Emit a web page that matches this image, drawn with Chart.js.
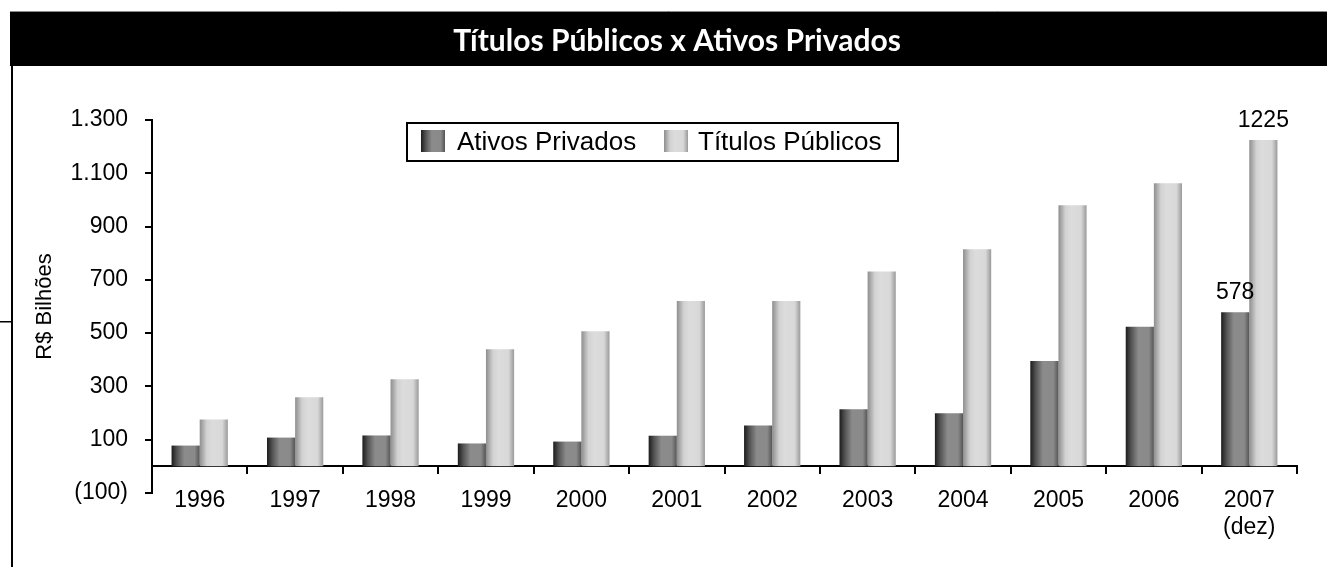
<!DOCTYPE html>
<html>
<head>
<meta charset="utf-8">
<script src="https://cdn.jsdelivr.net/npm/chart.js@4.4.1/dist/chart.umd.min.js"></script>
<style>
  html, body { margin: 0; padding: 0; background: #ffffff; }
  #chart-box { width: 1327px; height: 567px; }
</style>
</head>
<body>
<div id="chart-box"><canvas id="chart" width="1327" height="567"></canvas></div>
<script>
const years = ['1996', '1997', '1998', '1999', '2000', '2001', '2002', '2003', '2004', '2005', '2006', ['2007', '(dez)']];
const ativosPrivados  = [78, 108, 116, 86, 93, 115, 153, 214, 199, 395, 524, 578];
const titulosPublicos = [176, 259, 327, 440, 507, 621, 621, 731, 815, 980, 1063, 1225];
const seriesNames = ['Ativos Privados', 'Títulos Públicos'];
const chartTitle = 'Títulos Públicos x Ativos Privados';
const Y_MIN = -100, Y_MAX = 1300, Y_STEP = 200;

const FONT = "'Liberation Sans', Arial, sans-serif";

// horizontal "cylinder" shading of each series
const shades = [
    [[0, '#1c1c1c'], [0.2, '#555555'], [0.45, '#8b8b8b'], [0.82, '#8a8a8a'], [1, '#555555']],
    [[0, '#8e8e8e'], [0.25, '#d2d2d2'], [0.45, '#dcdcdc'], [0.8, '#d8d8d8'], [1, '#9a9a9a']]
];

function shade(ctx, x0, x1, stops) {
    const g = ctx.createLinearGradient(x0, 0, x1, 0);
    stops.forEach(([o, c]) => g.addColorStop(o, c));
    return g;
}

function thousands(v) {
    return String(v).replace(/\B(?=(\d{3})+(?!\d))/g, '.');
}

// black title band + panel frame
const framePlugin = {
    id: 'frame',
    beforeDraw(chart) {
        const c = chart.ctx;
        c.save();
        c.fillStyle = '#ffffff';
        c.fillRect(0, 0, chart.width, chart.height);
        c.fillStyle = '#000000';
        c.fillRect(10, 11, chart.width - 10, 55);
        c.strokeStyle = '#8a8a8a';
        c.lineWidth = 1;
        c.beginPath();
        c.moveTo(10, 11.5);
        c.lineTo(chart.width, 11.5);
        c.stroke();
        c.fillStyle = '#000000';
        c.fillRect(11, 66, 2, chart.height - 66);
        c.fillRect(0, 321, 11, 1.5);

        c.fillStyle = '#ffffff';
        c.font = 'bold 30px Lato, sans-serif';
        c.textAlign = 'center';
        c.textBaseline = 'alphabetic';
        c.fillText(chartTitle, 677, 50.5);
        c.restore();
    }
};

const shadingPlugin = {
    id: 'shading',
    beforeDatasetsDraw(chart) {
        chart.data.datasets.forEach((ds, i) => {
            chart.getDatasetMeta(i).data.forEach(bar => {
                const { x, width } = bar.getProps(['x', 'width'], true);
                bar.options.backgroundColor = shade(chart.ctx, x - width / 2, x + width / 2, shades[i]);
            });
        });
    }
};

const lastValuePlugin = {
    id: 'lastValue',
    afterDatasetsDraw(chart) {
        const c = chart.ctx;
        c.save();
        c.font = '23px ' + FONT;
        c.fillStyle = '#000000';
        c.textAlign = 'center';
        c.textBaseline = 'alphabetic';
        chart.data.datasets.forEach((ds, i) => {
            const meta = chart.getDatasetMeta(i);
            const idx = ds.data.length - 1;
            const bar = meta.data[idx];
            c.fillText(String(ds.data[idx]), bar.x, bar.y - 13);
        });
        c.restore();
    }
};

const boxLegendPlugin = {
    id: 'boxLegend',
    afterDraw(chart) {
        const c = chart.ctx;
        c.save();
        c.fillStyle = '#ffffff';
        c.fillRect(406, 122, 493, 40);
        c.strokeStyle = '#000000';
        c.lineWidth = 2;
        c.strokeRect(407, 123, 491, 38);
        c.font = '26px ' + FONT;
        c.textBaseline = 'alphabetic';
        const items = [{ box: 421, text: 457 }, { box: 664, text: 698 }];
        items.forEach((it, i) => {
            c.fillStyle = shade(c, it.box, it.box + 24, shades[i]);
            c.fillRect(it.box, 130, 24, 22);
            c.fillStyle = '#000000';
            c.fillText(chart.data.datasets[i].label, it.text, 149.5);
        });
        c.restore();
    }
};

new Chart(document.getElementById('chart'), {
    type: 'bar',
    data: {
        labels: years,
        datasets: [
            { label: seriesNames[0], data: ativosPrivados, backgroundColor: () => '#8a8a8a', borderWidth: 0 },
            { label: seriesNames[1], data: titulosPublicos, backgroundColor: () => '#d8d8d8', borderWidth: 0 }
        ]
    },
    options: {
        responsive: false,
        animation: false,
        devicePixelRatio: 1,
        categoryPercentage: 0.59,
        barPercentage: 1.0,
        layout: { padding: { top: 120, left: 0, right: 30, bottom: 74 } },
        plugins: {
            legend: { display: false },
            tooltip: { enabled: false },
            title: { display: false }
        },
        scales: {
            x: {
                position: { y: 0 },
                offset: true,
                grid: { drawOnChartArea: false, drawTicks: true, tickLength: 7, color: '#000000', lineWidth: 2, offset: true },
                border: { display: true, color: '#000000', width: 2 },
                ticks: { color: '#000000', font: { family: FONT, size: 23 }, padding: 13, maxRotation: 0, autoSkip: false }
            },
            y: {
                min: Y_MIN,
                max: Y_MAX,
                afterFit: scale => { scale.width = 152; },
                grid: { drawOnChartArea: false, drawTicks: true, tickLength: 7, color: '#000000', lineWidth: 2 },
                border: { display: true, color: '#000000', width: 2 },
                ticks: {
                    stepSize: Y_STEP,
                    color: '#000000',
                    padding: 17,
                    font: { family: FONT, size: 23 },
                    callback: v => v < 0 ? '(' + thousands(-v) + ')' : thousands(v)
                },
                title: {
                    display: true,
                    text: 'R$ Bilhões',
                    color: '#000000',
                    font: { family: FONT, size: 22 },
                    padding: { top: 32, bottom: 0 }
                }
            }
        }
    },
    plugins: [framePlugin, shadingPlugin, lastValuePlugin, boxLegendPlugin]
});
</script>
</body>
</html>
